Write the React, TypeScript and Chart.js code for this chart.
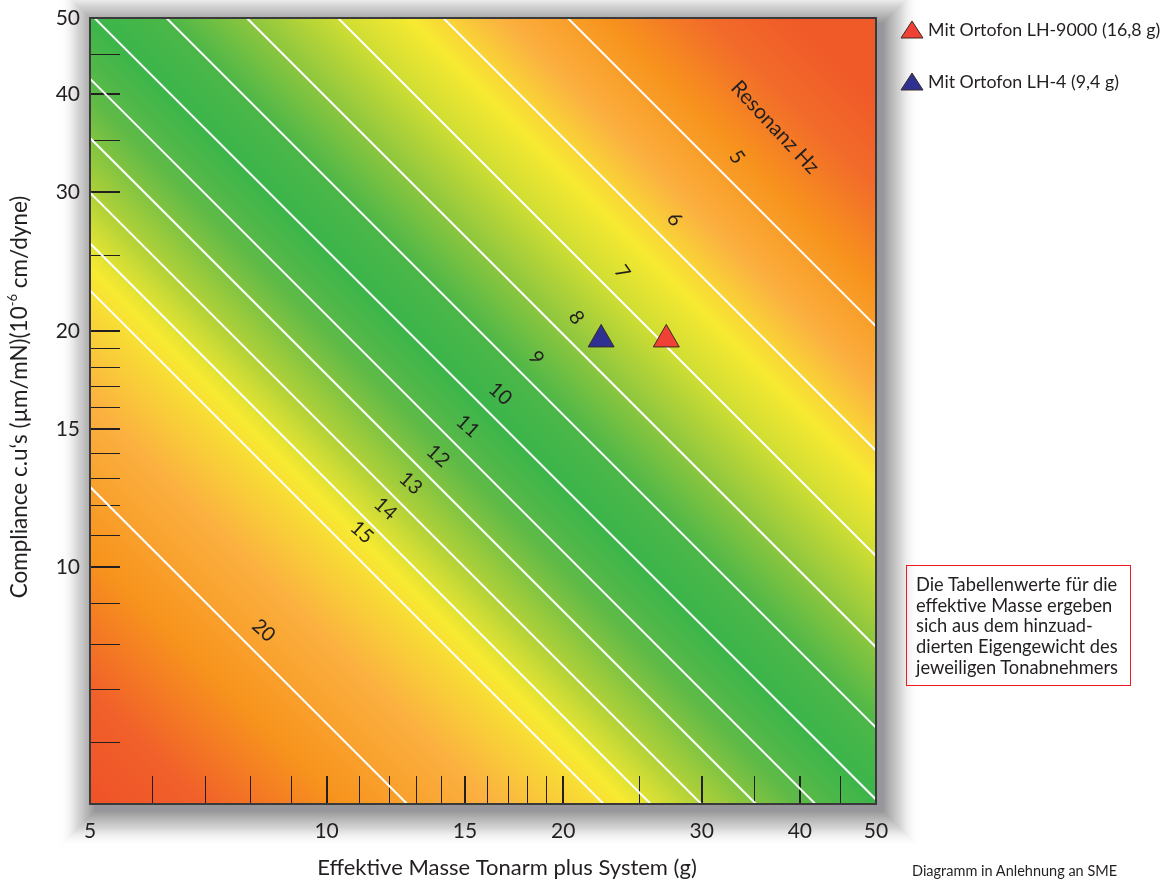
import React, { useEffect, useRef } from 'react';
import { Chart, registerables } from 'chart.js';

Chart.register(...registerables);

// ---------------- data ----------------
const massRange = [5, 50]; // effective mass of arm + cartridge (g)
const complianceRange = [5, 50]; // compliance (µm/mN)
const resonanceHz = [5, 6, 7, 8, 9, 10, 11, 12, 13, 14, 15, 20];
const xTickLabels = [5, 10, 15, 20, 30, 40, 50];
const yTickLabels = [10, 15, 20, 30, 40, 50];
const innerTicks = [6, 7, 8, 9, 10, 11, 12, 13, 14, 15, 16, 17, 18, 19, 20, 25, 30, 35, 40, 45];
const majorTicks = [10, 15, 20, 30, 40];
const cartridgeNames = ['Mit Ortofon LH-9000 (16,8 g)', 'Mit Ortofon LH-4 (9,4 g)'];
const cartridgeMass = [27.05, 22.35];
const cartridgeCompliance = [19.5, 19.5];
const cartridgeColors = ['#EF4136', '#2E3192'];
// background colour as a function of resonance frequency
const gradientHz = [32, 27, 22, 17.7, 14.5, 12.8, 11.3, 10, 9, 8, 7, 6.3, 5.5, 4.75, 4.1, 3.6];
const gradientColors = [
  '#EF5229', '#F1602A', '#F7941D', '#FBB040', '#F7EA31', '#A6CE3A', '#5FBA47', '#3BB54A',
  '#4DB748', '#8CC63F', '#CFDD33', '#F7EA31', '#FBB040', '#F7941D', '#F26C2A', '#F05A28',
];
const resonanceTitle = 'Resonanz Hz';
const resonanceTitleMass = 37.2;
const resonanceTitleCompliance = 36.3;
const xTitle = 'Effektive Masse Tonarm plus System (g)';
const noteLines = [
  'Die Tabellenwerte für die',
  'effektive Masse ergeben',
  'sich aus dem hinzuad-',
  'dierten Eigengewicht des',
  'jeweiligen Tonabnehmers',
];
const footer = 'Diagramm in Anlehnung an SME';

// f = 1 / (2π √(m·C))  with m in g and C in µm/mN
const isoDiag = (hz: number) => 1000 / (2 * Math.PI * hz);
const complianceAt = (hz: number, mass: number) => {
  const d = isoDiag(hz);
  return (d * d) / mass;
};

const TEXT = '#231F20';
const FONT = 'Lato, "Noto Sans", sans-serif';

function rotText(ctx: CanvasRenderingContext2D, text: string, x: number, y: number, deg: number) {
  ctx.save();
  ctx.translate(x, y);
  ctx.rotate((deg * Math.PI) / 180);
  ctx.fillText(text, 0, 0);
  ctx.restore();
}

const decorPlugin = {
  id: 'decor',
  beforeDatasetsDraw(chart: any) {
    const { ctx, chartArea: a, scales } = chart;
    const x = scales.x;
    const y = scales.y;

    // soft drop shadow around the plot (stacked translucent rects, quadratic falloff)
    ctx.save();
    const spread = 42;
    const strength = 0.78;
    const ox = 6;
    const oy = 6;
    for (let i = spread; i >= 1; i--) {
      const alpha = (2 * strength * (1 - i / spread)) / spread;
      ctx.fillStyle = `rgba(70,70,75,${alpha.toFixed(4)})`;
      ctx.fillRect(a.left - i + ox, a.top - i + oy, a.width + 2 * i, a.height + 2 * i);
    }
    ctx.restore();

    const x0 = x.getPixelForValue(massRange[0]);
    const y0 = y.getPixelForValue(complianceRange[0]);
    const x1 = x.getPixelForValue(massRange[1]);
    const y1 = y.getPixelForValue(complianceRange[1]);
    const g = ctx.createLinearGradient(x0, y0, x1, y1);
    const dx = x1 - x0;
    const dy = y1 - y0;
    const len2 = dx * dx + dy * dy;
    gradientHz.forEach((hz, i) => {
      const d = isoDiag(hz);
      const px = x.getPixelForValue(d);
      const py = y.getPixelForValue(d);
      let t = ((px - x0) * dx + (py - y0) * dy) / len2;
      t = Math.min(1, Math.max(0, t));
      g.addColorStop(t, gradientColors[i]);
    });
    ctx.save();
    ctx.fillStyle = g;
    ctx.fillRect(a.left, a.top, a.width, a.height);
    ctx.restore();

    // inner tick marks
    ctx.save();
    ctx.strokeStyle = TEXT;
    innerTicks.forEach((v) => {
      const major = majorTicks.includes(v);
      ctx.lineWidth = major ? 2 : 1;
      const off = major ? 0 : 0.5;
      const px = Math.round(x.getPixelForValue(v)) + off;
      ctx.beginPath();
      ctx.moveTo(px, a.bottom);
      ctx.lineTo(px, a.bottom - 28);
      ctx.stroke();
      const py = Math.round(y.getPixelForValue(v)) + off;
      ctx.beginPath();
      ctx.moveTo(a.left, py);
      ctx.lineTo(a.left + 30, py);
      ctx.stroke();
    });
    ctx.restore();
  },
  afterDatasetsDraw(chart: any) {
    const { ctx, chartArea: a, scales } = chart;
    const x = scales.x;
    const y = scales.y;
    ctx.save();
    // frame
    ctx.strokeStyle = '#3A3A3A';
    ctx.lineWidth = 2;
    ctx.strokeRect(a.left, a.top, a.width, a.height);

    // tick labels
    ctx.fillStyle = TEXT;
    ctx.font = `21px ${FONT}`;
    ctx.textBaseline = 'middle';
    ctx.textAlign = 'center';
    xTickLabels.forEach((v) => {
      ctx.fillText(String(v), x.getPixelForValue(v), a.bottom + 27);
    });
    ctx.textAlign = 'right';
    yTickLabels.forEach((v) => {
      ctx.fillText(String(v), a.left - 10, y.getPixelForValue(v));
    });

    // axis titles
    ctx.font = `22px ${FONT}`;
    ctx.textAlign = 'center';
    ctx.fillText(xTitle, (a.left + a.right) / 2 + 24, a.bottom + 64);

    ctx.save();
    ctx.translate(20, (a.top + a.bottom) / 2 - 14);
    ctx.rotate(-Math.PI / 2);
    const parts: [string, number, number][] = [
      ['Compliance c.u‘s (µm/mN)(10', 22.5, 0],
      ['-6', 13, -7],
      [' cm/dyne)', 22.5, 0],
    ];
    let total = 0;
    parts.forEach(([s, size]) => {
      ctx.font = `${size}px ${FONT}`;
      total += ctx.measureText(s).width;
    });
    let cx = -total / 2;
    ctx.textAlign = 'left';
    parts.forEach(([s, size, dyy]) => {
      ctx.font = `${size}px ${FONT}`;
      ctx.fillText(s, cx, dyy);
      cx += ctx.measureText(s).width;
    });
    ctx.restore();

    // resonance labels
    ctx.font = `20px ${FONT}`;
    ctx.textAlign = 'center';
    ctx.textBaseline = 'middle';
    resonanceHz.forEach((hz) => {
      const d = isoDiag(hz);
      const px = x.getPixelForValue(d) + 15;
      const py = y.getPixelForValue(d) - 15;
      rotText(ctx, String(hz), px, py, hz < 10 ? 55 : 42);
    });
    ctx.font = `21px ${FONT}`;
    rotText(
      ctx,
      resonanceTitle,
      x.getPixelForValue(resonanceTitleMass),
      y.getPixelForValue(resonanceTitleCompliance),
      47
    );
    ctx.restore();
  },
};

function Triangle({ color }: { color: string }) {
  return (
    <svg width={24} height={19} viewBox="0 0 24 19" style={{ display: 'block' }}>
      <polygon points="12,1 23,18 1,18" fill={color} stroke="#3a2a22" strokeWidth={1} />
    </svg>
  );
}

export default function App() {
  const canvasRef = useRef<HTMLCanvasElement | null>(null);

  useEffect(() => {
    if (!canvasRef.current) return;
    const lineSets = resonanceHz.map((hz) => ({
      label: `${hz} Hz`,
      data: [massRange[0], massRange[1]].map((m) => ({ x: m, y: complianceAt(hz, m) })),
      showLine: true,
      borderColor: '#FFFFFF',
      borderWidth: 2,
      pointRadius: 0,
      order: 1,
    }));
    const markerSets = cartridgeNames.map((name, i) => ({
      label: name,
      data: [{ x: cartridgeMass[i], y: cartridgeCompliance[i] }],
      showLine: false,
      pointStyle: 'triangle',
      pointRadius: 15,
      pointBackgroundColor: cartridgeColors[i],
      pointBorderColor: '#3a2a22',
      pointBorderWidth: 1,
      order: 0,
    }));
    const chart = new Chart(canvasRef.current, {
      type: 'scatter',
      data: { datasets: [...markerSets, ...lineSets] as any },
      options: {
        responsive: false,
        animation: false,
        events: [],
        layout: { padding: { left: 90, top: 18, right: 287, bottom: 78 } },
        plugins: { legend: { display: false }, tooltip: { enabled: false } },
        scales: {
          x: { type: 'logarithmic', min: massRange[0], max: massRange[1], display: false },
          y: { type: 'logarithmic', min: complianceRange[0], max: complianceRange[1], display: false },
        },
      },
      plugins: [decorPlugin],
    });
    return () => chart.destroy();
  }, []);

  const textStyle: React.CSSProperties = { fontFamily: FONT, color: TEXT };

  return (
    <div style={{ position: 'fixed', left: 0, top: 0, width: 1163, height: 882, background: '#fff', overflow: 'hidden' }}>
      <canvas
        ref={canvasRef}
        width={1163}
        height={882}
        style={{ display: 'block', position: 'absolute', left: 0, top: 0 }}
      />
      {cartridgeNames.map((name, i) => (
        <div
          key={name}
          style={{
            position: 'absolute',
            left: 900,
            top: 18 + i * 52,
            display: 'flex',
            alignItems: 'center',
            gap: 4,
            whiteSpace: 'nowrap',
            fontSize: 17.8,
            ...textStyle,
          }}
        >
          <Triangle color={cartridgeColors[i]} />
          <span>{name}</span>
        </div>
      ))}
      <div
        style={{
          position: 'absolute',
          left: 906,
          top: 565,
          width: 225,
          height: 121,
          boxSizing: 'border-box',
          border: '1.5px solid #ED1C24',
          padding: '8px 0 0 9px',
          fontSize: 18.3,
          lineHeight: '20.7px',
          whiteSpace: 'nowrap',
          ...textStyle,
        }}
      >
        {noteLines.map((l) => (
          <div key={l}>{l}</div>
        ))}
      </div>
      <div
        style={{
          position: 'absolute',
          left: 912,
          top: 862,
          fontSize: 14.5,
          lineHeight: '18px',
          whiteSpace: 'nowrap',
          ...textStyle,
        }}
      >
        {footer}
      </div>
    </div>
  );
}
